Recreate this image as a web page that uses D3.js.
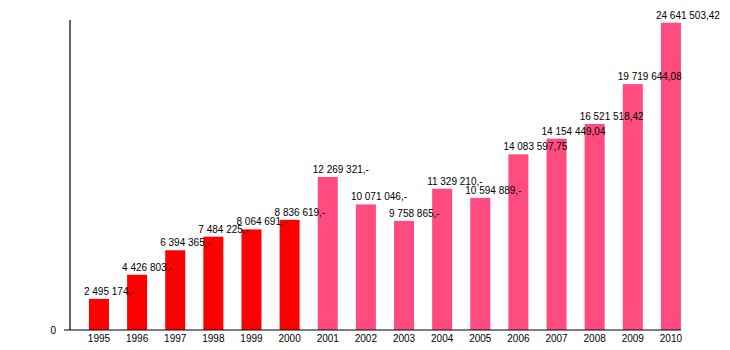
<!DOCTYPE html>
<html>
<head>
<meta charset="utf-8">
<script src="https://cdn.jsdelivr.net/npm/d3@7"></script>
<style>
  html, body { margin: 0; padding: 0; background: #fff; }
  text { font-family: "Liberation Sans", Arial, Helvetica, sans-serif; font-size: 10px; fill: #000; }
</style>
</head>
<body>
<svg id="chart" width="730" height="350"></svg>
<script>
const years = ["1995","1996","1997","1998","1999","2000","2001","2002","2003","2004","2005","2006","2007","2008","2009","2010"];
// bar heights as drawn in the picture (the 2003 and 2007 bars differ from their labels)
const barValues = [2495174, 4426803, 6394365, 7484225, 8064691, 8836619, 12269321, 10071046, 8750000, 11329210, 10594889, 14083597.75, 15340000, 16521518.42, 19719644.08, 24641503.42];
const labels = ["2 495 174,-", "4 426 803,-", "6 394 365,-", "7 484 225,-", "8 064 691,-", "8 836 619,-", "12 269 321,-", "10 071 046,-", "9 758 865,-", "11 329 210,-", "10 594 889,-", "14 083 597,75", "14 154 449,04", "16 521 518,42", "19 719 644,08", "24 641 503,42"];
const groups = ["a","a","a","a","a","a","b","b","b","b","b","b","b","b","b","b"];
const yTicks = [0];

const colors = { a: "#ff0000", b: "#ff4b7e" };

const svg = d3.select("#chart");
const x = d3.scaleBand().domain(years).range([79.9, 690.0]).paddingInner(0.4755).paddingOuter(0.2378);
const y = d3.scaleLinear().domain([0, 24700000]).range([330, 22]);

const data = years.map((yr, i) => ({ yr, v: barValues[i], label: labels[i], g: groups[i] }));

svg.selectAll("rect.bar").data(data).enter().append("rect")
  .attr("class", "bar")
  .attr("x", d => x(d.yr))
  .attr("width", x.bandwidth())
  .attr("y", d => y(d.v))
  .attr("height", d => y(0) - y(d.v))
  .attr("fill", d => colors[d.g]);

svg.selectAll("text.val").data(data).enter().append("text")
  .attr("class", "val")
  .attr("x", d => x(d.yr) - 5)
  .attr("y", d => y(d.v) - 4)
  .text(d => d.label);

// axes
const axisX = 70;
svg.append("line").attr("x1", axisX).attr("x2", axisX).attr("y1", 20).attr("y2", y(0))
  .attr("stroke", "#000").attr("stroke-width", 1.2);
svg.append("line").attr("x1", axisX - 6).attr("x2", x(years[years.length - 1]) + x.bandwidth()).attr("y1", y(0)).attr("y2", y(0))
  .attr("stroke", "#000").attr("stroke-width", 1.2);

svg.selectAll("text.ytick").data(yTicks).enter().append("text")
  .attr("class", "ytick")
  .attr("x", 56).attr("y", d => y(d) + 3.5)
  .attr("text-anchor", "end")
  .text(d => d);

svg.selectAll("text.xtick").data(years).enter().append("text")
  .attr("class", "xtick")
  .attr("x", d => x(d) + x.bandwidth() / 2)
  .attr("y", 342)
  .attr("text-anchor", "middle")
  .text(d => d);
</script>
</body>
</html>
